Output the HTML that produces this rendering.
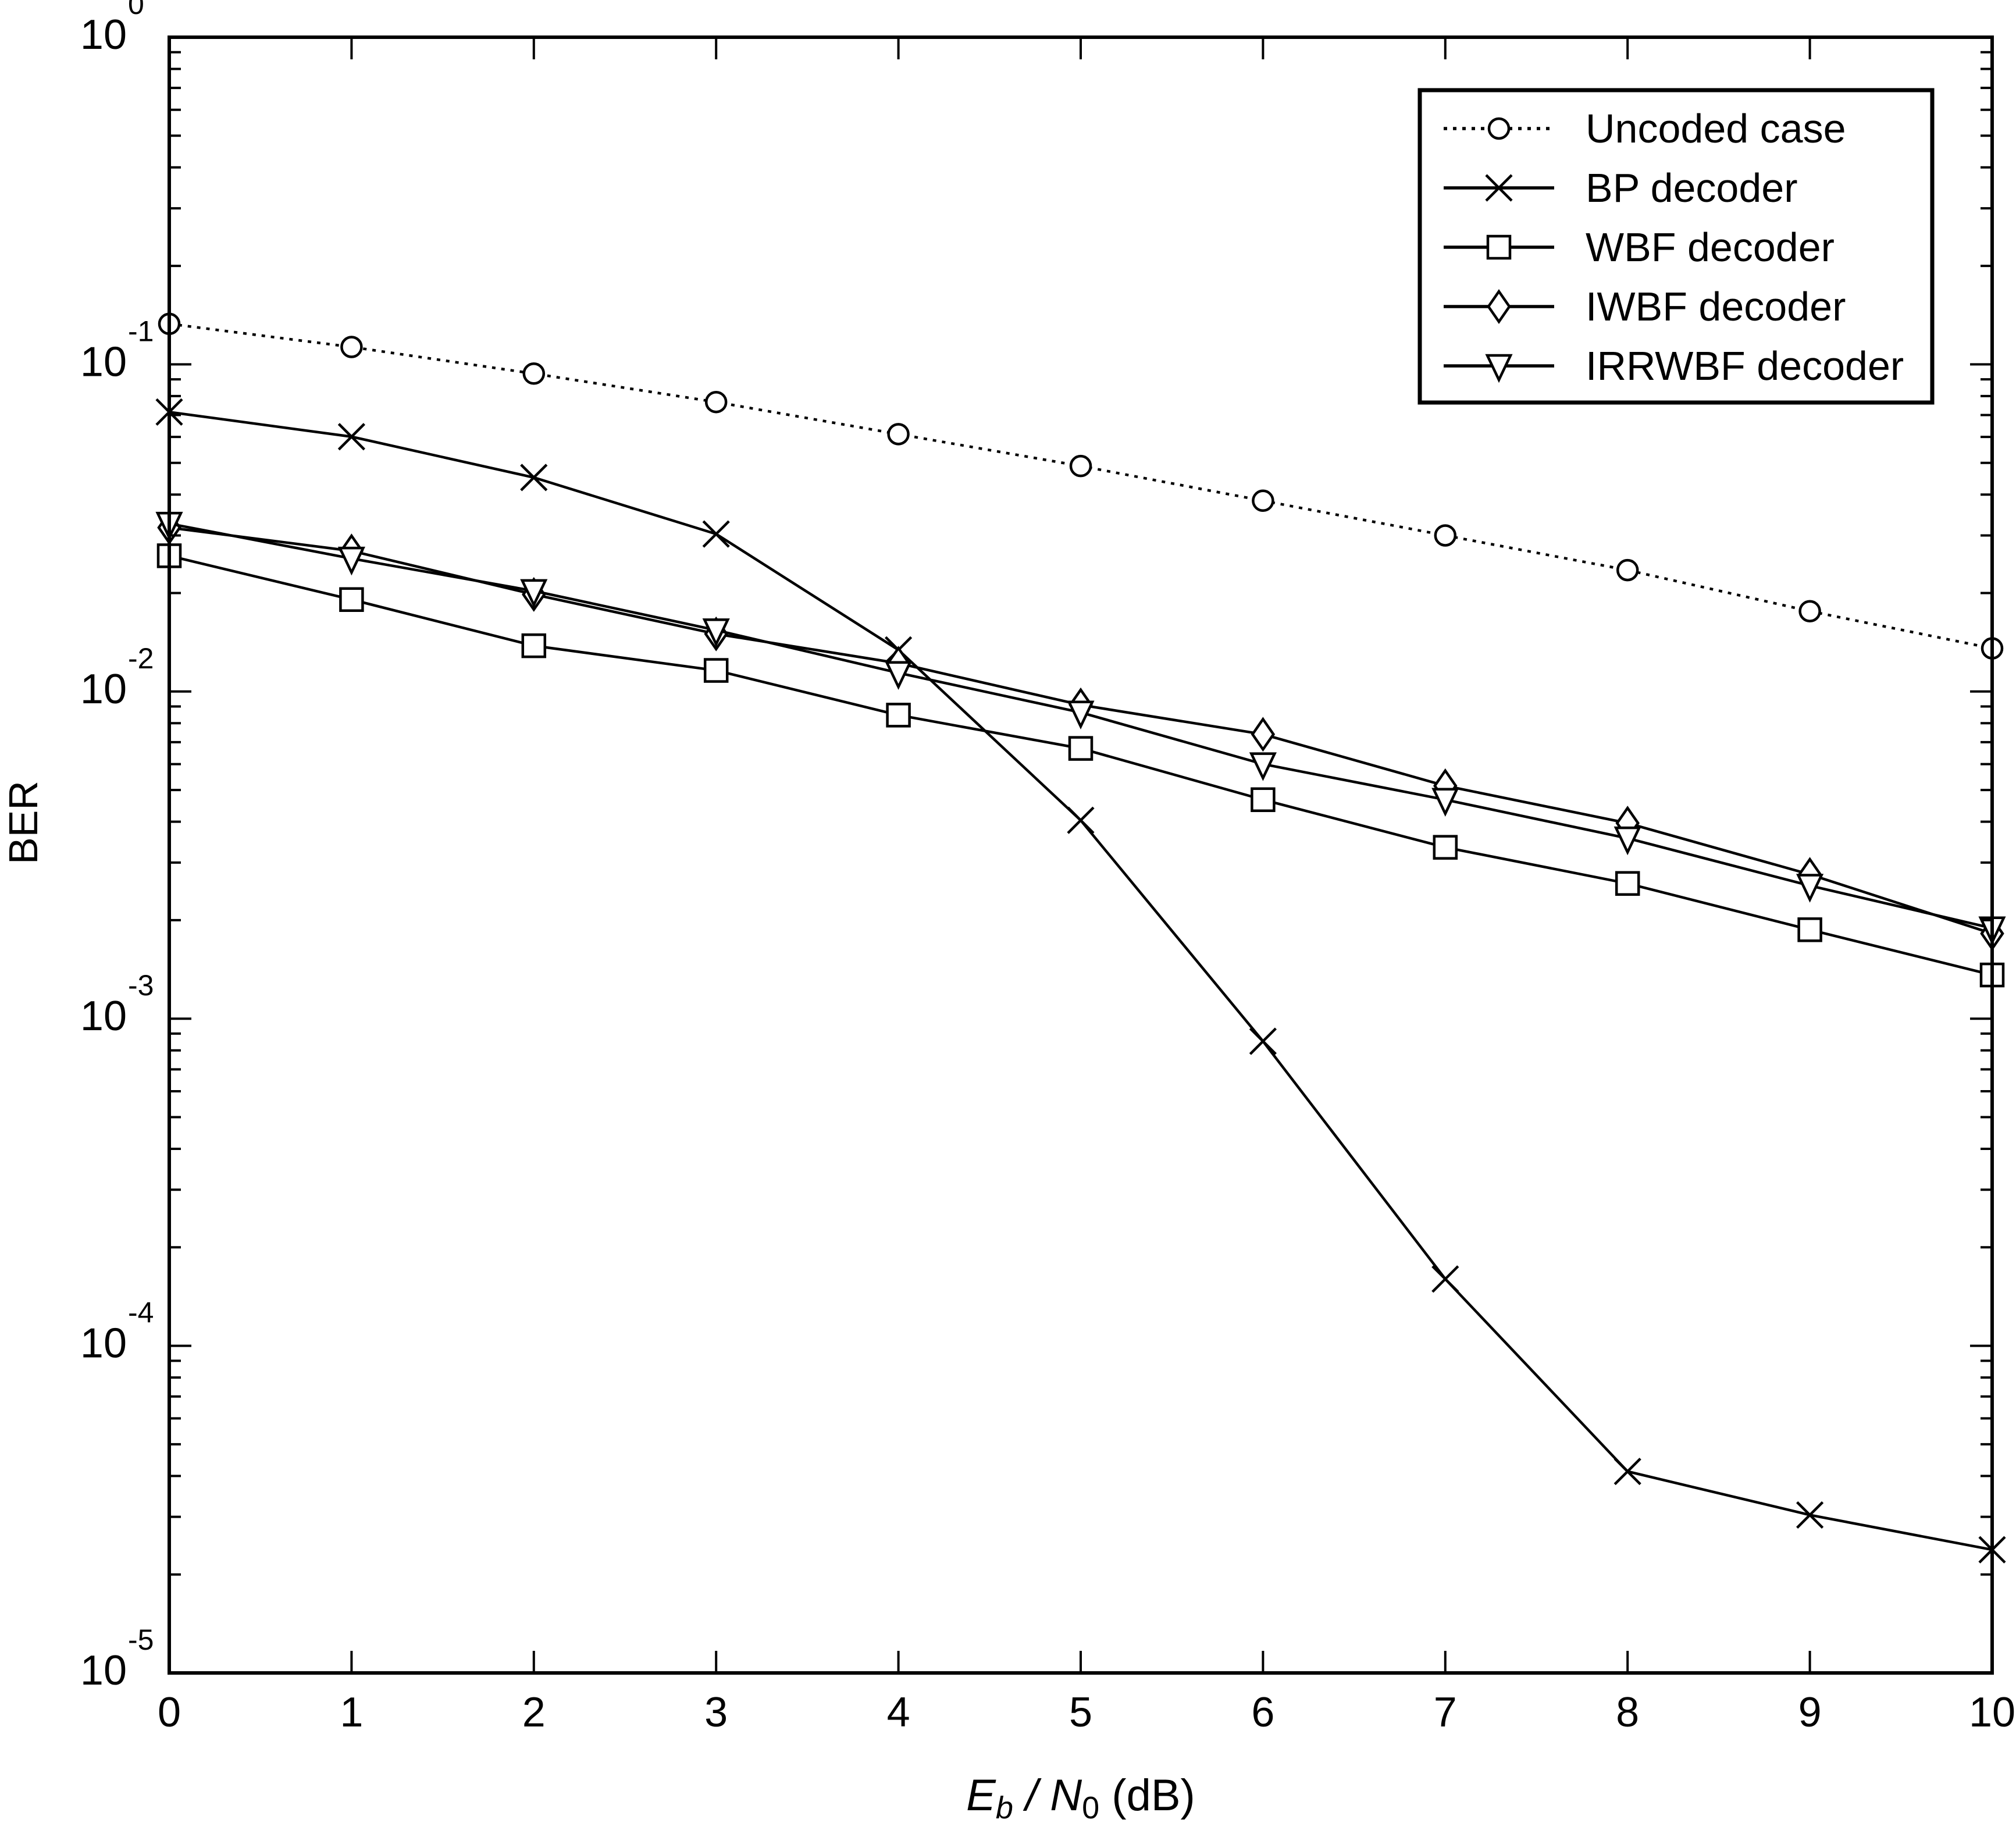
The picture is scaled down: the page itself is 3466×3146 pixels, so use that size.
<!DOCTYPE html>
<html><head><meta charset="utf-8"><style>
html,body{margin:0;padding:0;background:#fff;}
svg{display:block;font-family:"Liberation Sans",Arial,sans-serif;}
</style></head><body>
<svg id="chart" width="3466" height="3146" viewBox="0 0 3466 3146" xmlns="http://www.w3.org/2000/svg">
<rect width="3466" height="3146" fill="#fff"/>
<g id="grid"></g>
<g id="series"></g>
<g id="axes"></g>
<g id="legend"></g>
</svg>
<script>
const xTicks = [0,1,2,3,4,5,6,7,8,9,10];
const yExps = [0,-1,-2,-3,-4,-5];
const snr = [0,1,2,3,4,5,6,7,8,9,10];
const uncoded = [0.133,0.113,0.0937,0.0767,0.0612,0.0489,0.0383,0.030,0.0235,0.0176,0.01355];
const bp = [0.0715,0.0601,0.0451,0.0303,0.0134,0.00404,0.000853,0.00016,0.0000413,0.0000304,0.0000238];
const wbf = [0.0260,0.0191,0.0138,0.0116,0.00847,0.0067,0.00467,0.00334,0.00259,0.00187,0.00136];
const iwbf = [0.0317,0.0269,0.0198,0.0150,0.0122,0.0091,0.0074,0.00515,0.00396,0.00276,0.00182];
const irrwbf = [0.0326,0.0255,0.0203,0.0154,0.0114,0.00863,0.0060,0.00467,0.00356,0.00255,0.00189];
const legendLabels = ["Uncoded case","BP decoder","WBF decoder","IWBF decoder","IRRWBF decoder"];

const L=291,R=3425,T=64,B=2876;
const NS="http://www.w3.org/2000/svg";
function X(v){return L+(v-0)/(10-0)*(R-L);}
function Y(v){return T+(0-Math.log10(v))/5*(B-T);}
function mk(tag,attrs,parent){const e=document.createElementNS(NS,tag);for(const k in attrs)e.setAttribute(k,attrs[k]);parent.appendChild(e);return e;}
const axes=document.getElementById('axes'),ser=document.getElementById('series'),leg=document.getElementById('legend');
const SW=4.5;

const fr=mk('rect',{x:L,y:T,width:R-L,height:B-T,fill:'none',stroke:'#000','stroke-width':6},axes);



xTicks.forEach(t=>{
  const x=X(t);
  const tk=mk('path',{d:`M${x},${B}V${B-38}M${x},${T}V${T+38}`,stroke:'#000','stroke-width':4},axes);
  
  
  const lb=mk('text',{x:x,y:B+92,'font-size':72,'text-anchor':'middle'},axes);
  lb.textContent=t;
  
  
});
yExps.forEach(e=>{
  const y=Y(Math.pow(10,e));
  const tk=mk('path',{d:`M${L},${y}H${L+38}M${R},${y}H${R-38}`,stroke:'#000','stroke-width':4},axes);
  
  
  const lb=mk('text',{x:218,y:y+20,'font-size':72,'text-anchor':'end'},axes);
  lb.textContent='10';
  
  
  const ex=mk('text',{x:220,y:y-40,'font-size':50,'text-anchor':'start'},axes);
  ex.textContent=String(e);
  
  
  if(e>-5){
    for(let m=2;m<=9;m++){
      const ym=Y(m*Math.pow(10,e-1));
      const mt=mk('path',{d:`M${L},${ym}H${L+20}M${R},${ym}H${R-20}`,stroke:'#000','stroke-width':4},axes);
      
      
    }
  }
});
const yl=mk('text',{x:0,y:0,'font-size':70,'text-anchor':'middle',transform:'translate(64,1414) rotate(-90)'},axes);
yl.textContent='BER';


const xl=mk('text',{x:1858,y:3112,'font-size':76,'text-anchor':'middle'},axes);
xl.innerHTML='<tspan font-style="italic">E</tspan><tspan font-style="italic" font-size="54" dy="14">b</tspan><tspan dy="-14" font-style="italic"> / N</tspan><tspan font-size="54" dy="14">0</tspan><tspan dy="-14">  (dB)</tspan>';



function marker(type,x,y,g){
  let el;
  if(type==='o') el=mk('circle',{cx:x,cy:y,r:17,fill:'#fff',stroke:'#000','stroke-width':SW},g);
  else if(type==='x') el=mk('path',{d:`M${x-22},${y-22}L${x+22},${y+22}M${x-22},${y+22}L${x+22},${y-22}`,stroke:'#000','stroke-width':SW},g);
  else if(type==='s') el=mk('rect',{x:x-19,y:y-19,width:38,height:38,fill:'#fff',stroke:'#000','stroke-width':SW},g);
  else if(type==='d') el=mk('path',{d:`M${x},${y-26}L${x+18},${y}L${x},${y+26}L${x-18},${y}Z`,fill:'#fff',stroke:'#000','stroke-width':SW},g);
  else el=mk('path',{d:`M${x-20},${y-18}L${x+20},${y-18}L${x},${y+24}Z`,fill:'#fff',stroke:'#000','stroke-width':SW},g);
  return el;
}
const seriesDefs=[
  {name:'uncoded',data:uncoded,m:'o',dash:'6 10'},
  {name:'bp',data:bp,m:'x',dash:''},
  {name:'wbf',data:wbf,m:'s',dash:''},
  {name:'iwbf',data:iwbf,m:'d',dash:''},
  {name:'irrwbf',data:irrwbf,m:'v',dash:''}
];
leg.appendChild((()=>{const r=document.createElementNS(NS,'rect');r.setAttribute('x',2441);r.setAttribute('y',155);r.setAttribute('width',881);r.setAttribute('height',537);r.setAttribute('fill','#fff');return r;})());
seriesDefs.forEach((s,i)=>{
  const g=mk('g',{},ser);
  
  
  const d=s.data.map((v,j)=>(j?'L':'M')+X(snr[j])+','+Y(v)).join('');
  const ln=mk('path',{d:d,fill:'none',stroke:'#000','stroke-width':SW,'stroke-dasharray':s.dash},g);
  
  
  s.data.forEach((v,j)=>{
    const p=marker(s.m,X(snr[j]),Y(v),g);
    
    
  });
  const ly=221+i*102;
  const lg=mk('g',{},leg);
  
  
  const ll=mk('path',{d:`M2482,${ly}H2672`,stroke:'#000','stroke-width':SW+1,'stroke-dasharray':s.dash},lg);
  
  
  const lm=marker(s.m,2577,ly,lg);
  
  
  const lt=mk('text',{x:2726,y:ly+24,'font-size':70},lg);
  lt.textContent=legendLabels[i];
  
  
});
const lb=mk('rect',{x:2441,y:155,width:881,height:537,fill:'none',stroke:'#000','stroke-width':7},leg);


</script>
</body></html>
